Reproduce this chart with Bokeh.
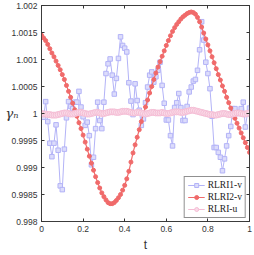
from bokeh.plotting import figure
from bokeh.models import Range1d, FixedTicker, LinearAxis, CustomJSTickFormatter, Legend, LegendItem
from bokeh.embed import file_html
from bokeh.resources import INLINE

t = [i / 100 for i in range(101)]

rlri1_v = [
    1.00000, 0.99993, 1.00022, 0.99985, 0.99945, 0.99920, 0.99945, 0.99979, 0.99932, 0.99866,
    0.99859, 0.99934, 0.99992, 1.00022, 1.00013, 1.00009, 1.00021, 1.00021, 1.00041, 1.00012,
    0.99994, 0.99978, 0.99984, 0.99959, 0.99905, 0.99919, 0.99972, 1.00021, 0.99987, 0.99972,
    1.00021, 1.00074, 1.00092, 1.00101, 1.00071, 1.00036, 1.00065, 1.00102, 1.00142, 1.00126,
    1.00121, 1.00114, 1.00057, 1.00023, 0.99998, 1.00055, 1.00024, 1.00006, 0.99978, 0.99990,
    1.00020, 1.00049, 1.00071, 1.00077, 1.00058, 1.00068, 1.00080, 1.00095, 1.00052, 1.00019,
    0.99988, 0.99988, 0.99959, 0.99940, 1.00011, 1.00020, 1.00037, 1.00011, 0.99987, 0.99987,
    1.00013, 1.00040, 1.00049, 1.00060, 1.00063, 1.00080, 1.00118, 1.00170, 1.00136, 1.00095,
    1.00074, 1.00046, 0.99995, 0.99937, 0.99937, 0.99928, 0.99919, 0.99894, 0.99916, 0.99940,
    0.99959, 0.99976, 1.00009, 1.00009, 1.00000, 1.00002, 1.00009, 1.00021, 0.99975, 0.99999,
    1.00010,
]

rlri2_v = [
    1.00145, 1.00140, 1.00135, 1.00128, 1.00120, 1.00112, 1.00105, 1.00097, 1.00089, 1.00081,
    1.00072, 1.00063, 1.00052, 1.00041, 1.00030, 1.00019, 1.00007, 0.99995, 0.99983, 0.99972,
    0.99960, 0.99947, 0.99934, 0.99921, 0.99908, 0.99895, 0.99883, 0.99872, 0.99862, 0.99853,
    0.99846, 0.99840, 0.99835, 0.99833, 0.99833, 0.99835, 0.99839, 0.99844, 0.99850, 0.99858,
    0.99867, 0.99879, 0.99893, 0.99910, 0.99927, 0.99942, 0.99956, 0.99970, 0.99985, 1.00000,
    1.00012, 1.00025, 1.00038, 1.00050, 1.00063, 1.00075, 1.00086, 1.00096, 1.00106, 1.00116,
    1.00126, 1.00135, 1.00144, 1.00152, 1.00159, 1.00165, 1.00170, 1.00175, 1.00179, 1.00182,
    1.00185, 1.00187, 1.00188, 1.00187, 1.00184, 1.00178, 1.00170, 1.00160, 1.00149, 1.00138,
    1.00127, 1.00116, 1.00105, 1.00094, 1.00083, 1.00072, 1.00062, 1.00051, 1.00041, 1.00030,
    1.00020, 1.00010, 1.00000, 0.99991, 0.99982, 0.99973, 0.99964, 0.99955, 0.99946, 0.99937,
    0.99928,
]

rlri_u = [
    1.00000, 0.99999, 0.99999, 0.99998, 0.99998, 0.99997, 0.99997, 0.99997, 0.99998, 0.99999,
    1.00000, 1.00001, 1.00001, 1.00000, 0.99999, 0.99999, 1.00000, 1.00001, 1.00002, 1.00002,
    1.00001, 1.00000, 0.99999, 0.99999, 1.00000, 1.00001, 1.00002, 1.00002, 1.00001, 1.00000,
    1.00000, 1.00001, 1.00002, 1.00003, 1.00003, 1.00003, 1.00002, 1.00002, 1.00003, 1.00004,
    1.00004, 1.00004, 1.00003, 1.00002, 1.00001, 1.00001, 1.00002, 1.00002, 1.00001, 1.00000,
    0.99999, 1.00000, 1.00001, 1.00002, 1.00002, 1.00001, 1.00001, 1.00001, 1.00002, 1.00001,
    1.00000, 1.00000, 1.00001, 1.00002, 1.00003, 1.00003, 1.00003, 1.00002, 1.00002, 1.00003,
    1.00004, 1.00005, 1.00006, 1.00006, 1.00005, 1.00004, 1.00003, 1.00002, 1.00001, 1.00000,
    0.99999, 0.99998, 0.99998, 0.99997, 0.99997, 0.99998, 0.99999, 1.00000, 1.00000, 0.99999,
    0.99998, 0.99998, 0.99999, 1.00000, 1.00001, 1.00001, 1.00000, 0.99999, 0.99999, 1.00000,
    1.00001,
]

x_ticks = [0, 0.2, 0.4, 0.6, 0.8, 1]
y_ticks = [0.998, 0.9985, 0.999, 0.9995, 1.0, 1.0005, 1.001, 1.0015, 1.002]

series_names = ["RLRI1-v", "RLRI2-v", "RLRI-u"]

blue = "#b3b3f7"
red = "#f06a6a"
pink = "#f5bdd5"
axis_col = "#333333"

p = figure(width=254, height=255, output_backend="svg", toolbar_location=None,
           x_range=Range1d(0, 1), y_range=Range1d(0.998, 1.002),
           min_border_left=41, min_border_right=5, min_border_top=5, min_border_bottom=34)
p.xgrid.visible = False
p.ygrid.visible = False
p.outline_line_color = axis_col
p.outline_line_width = 0.8

fmt = CustomJSTickFormatter(code="return String(parseFloat(tick.toFixed(4)));")
blank = CustomJSTickFormatter(code="return '';")

def style_axis(ax, labels=True):
    ax.axis_line_color = axis_col
    ax.axis_line_width = 0.8
    ax.major_tick_line_color = axis_col
    ax.major_tick_in = 3
    ax.major_tick_out = 0
    ax.minor_tick_line_color = None
    ax.major_label_text_font = "Liberation Sans"
    ax.major_label_text_color = "#333333"
    ax.major_label_text_font_size = "8.5px"
    ax.major_label_standoff = 4 if labels else 0

p.xaxis.ticker = FixedTicker(ticks=x_ticks)
p.yaxis.ticker = FixedTicker(ticks=y_ticks)
p.xaxis.formatter = fmt
p.yaxis.formatter = fmt
style_axis(p.xaxis[0])
style_axis(p.yaxis[0])
p.xaxis.axis_label = "t"
p.xaxis.axis_label_text_font = "Liberation Sans"
p.xaxis.axis_label_text_font_style = "normal"
p.xaxis.axis_label_text_font_size = "12px"
p.xaxis.axis_label_text_color = "#333333"
p.xaxis.axis_label_standoff = 3

p.yaxis.axis_label = "γₙ"
p.yaxis.axis_label_orientation = "horizontal"
p.yaxis.axis_label_text_font = "DejaVu Serif"
p.yaxis.axis_label_text_font_style = "italic"
p.yaxis.axis_label_text_font_size = "13px"
p.yaxis.axis_label_text_color = "#333333"
p.yaxis.axis_label_standoff = -10

top = LinearAxis(ticker=FixedTicker(ticks=x_ticks), formatter=blank)
right = LinearAxis(ticker=FixedTicker(ticks=y_ticks), formatter=blank)
style_axis(top, labels=False)
style_axis(right, labels=False)
p.add_layout(top, "above")
p.add_layout(right, "right")

r1l = p.line(t, rlri1_v, line_color=blue, line_width=1)
r1m = p.scatter(t, rlri1_v, marker="square", size=4.5, line_color=blue, fill_color="#dcdcfb", line_width=1)
r2l = p.line(t, rlri2_v, line_color=red, line_width=1.2)
r2m = p.scatter(t, rlri2_v, marker="circle", size=4, line_color=red, fill_color=red)
r3l = p.line(t, rlri_u, line_color=pink, line_width=1)
r3m = p.scatter(t, rlri_u, marker="circle", size=6, line_color=pink, fill_color="#fadbe8", line_width=1)

legend = Legend(items=[
    LegendItem(label=series_names[0], renderers=[r1l, r1m]),
    LegendItem(label=series_names[1], renderers=[r2l, r2m]),
    LegendItem(label=series_names[2], renderers=[r3l, r3m]),
], location="bottom_right")
legend.label_text_font = "Liberation Serif"
legend.label_text_font_size = "9.5px"
legend.label_text_color = "#222222"
legend.border_line_color = "#222222"
legend.border_line_width = 0.8
legend.background_fill_alpha = 1
legend.glyph_width = 17
legend.glyph_height = 10
legend.label_height = 10
legend.spacing = 2
legend.padding = 3
legend.margin = 3
legend.label_standoff = 3
p.add_layout(legend, "center")

open("out.html", "w").write(file_html(p, INLINE))
